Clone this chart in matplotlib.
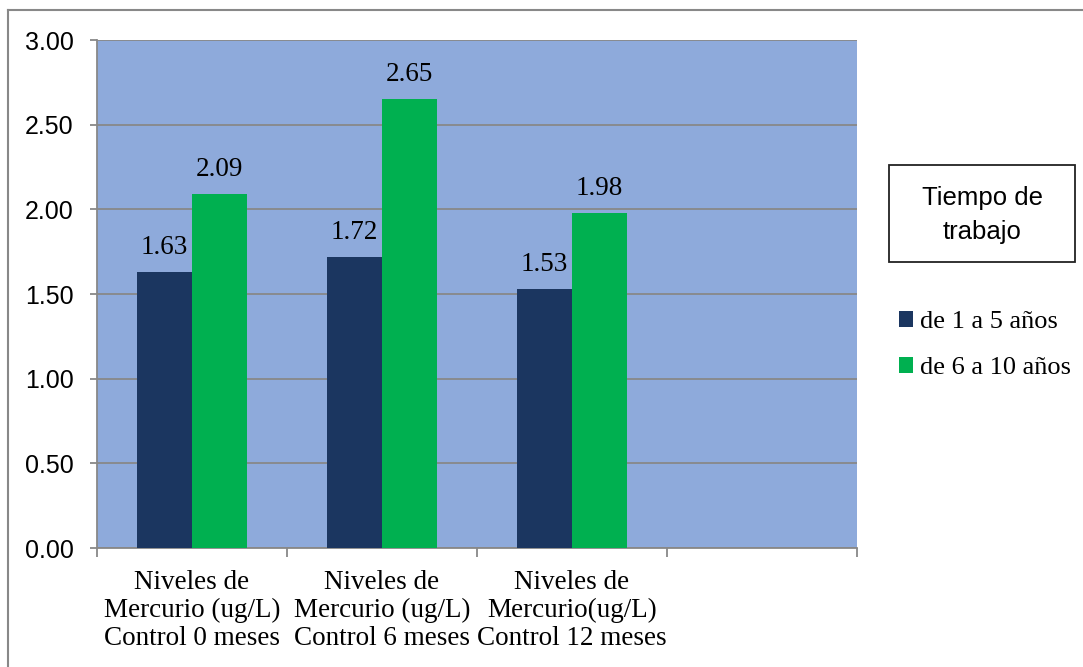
import matplotlib.pyplot as plt
from matplotlib.lines import Line2D
from matplotlib.patches import Patch

# datos
categorias = ['Niveles de\nMercurio (ug/L)\nControl 0 meses',
              'Niveles de\nMercurio (ug/L)\nControl 6 meses',
              'Niveles de\nMercurio(ug/L)\nControl 12 meses']
de_1_a_5 = [1.63, 1.72, 1.53]
de_6_a_10 = [2.09, 2.65, 1.98]
series = ['de 1 a 5 años', 'de 6 a 10 años']

azul = '#1b3660'
verde = '#00b050'
fondo = '#8eaadb'
gris = '#888888'

W, H = 1083, 667
fig = plt.figure(figsize=(W / 100, H / 100), dpi=100)
ax = fig.add_axes([97 / W, (H - 548) / H, 760 / W, 508 / H])
ax.set_facecolor(fondo)

# barras
x = range(len(categorias))
ancho = 0.29
b1 = ax.bar([i - ancho / 2 for i in x], de_1_a_5, width=ancho, color=azul, zorder=3)
b2 = ax.bar([i + ancho / 2 for i in x], de_6_a_10, width=ancho, color=verde, zorder=3)

for barras, vals in ((b1, de_1_a_5), (b2, de_6_a_10)):
    for b, v in zip(barras, vals):
        ax.text(b.get_x() + b.get_width() / 2, v + 0.07, f'{v:.2f}',
                ha='center', va='bottom', fontsize=19.5, family='Liberation Serif')

# ejes
ax.set_xlim(-0.5, 3.5)
ax.set_ylim(0, 3.0)
ax.set_yticks([0, 0.5, 1.0, 1.5, 2.0, 2.5, 3.0])
ax.set_yticklabels([f'{v:.2f}' for v in ax.get_yticks()], fontsize=18,
                   family='Liberation Sans')
ax.yaxis.grid(True, color=gris, linewidth=1.3, zorder=0)
ax.set_axisbelow(True)

ax.set_xticks(list(x))
ax.set_xticklabels(categorias, fontsize=19.5, family='Liberation Serif',
                   linespacing=1.16)
ax.set_xticks([-0.5, 0.5, 1.5, 2.5, 3.5], minor=True)
ax.tick_params(axis='x', which='major', length=0, pad=16)
ax.tick_params(axis='x', which='minor', length=6.5, width=1.3, color=gris)
ax.tick_params(axis='y', length=5, width=1.3, color=gris, pad=12)

for lado in ('top', 'right'):
    ax.spines[lado].set_visible(False)
for lado in ('left', 'bottom'):
    ax.spines[lado].set_color(gris)
    ax.spines[lado].set_linewidth(1.3)

# leyenda
fig.add_artist(plt.Rectangle((889 / W, 1 - 262 / H), 186 / W, 97 / H,
                             transform=fig.transFigure, facecolor='white',
                             edgecolor='#222222', linewidth=1.3))
fig.text(982 / W, 1 - 215 / H, 'Tiempo de\ntrabajo', ha='center', va='center',
         fontsize=18.5, family='Liberation Sans', linespacing=1.55)
handles = [Patch(facecolor=azul), Patch(facecolor=verde)]
fig.legend(handles, series, loc='upper left', bbox_to_anchor=(875 / W, 1 - 287 / H),
           frameon=False, prop={'family': 'Liberation Serif', 'size': 19},
           handlelength=0.55, handleheight=0.55, handletextpad=0.25, labelspacing=0.9)

# marco exterior
fig.add_artist(Line2D([8 / W, 8 / W], [0, 1 - 10 / H], color=gris, linewidth=1.5))
fig.add_artist(Line2D([8 / W, 1], [1 - 10 / H, 1 - 10 / H], color=gris, linewidth=1.5))

fig.savefig('out.png', dpi=100)
